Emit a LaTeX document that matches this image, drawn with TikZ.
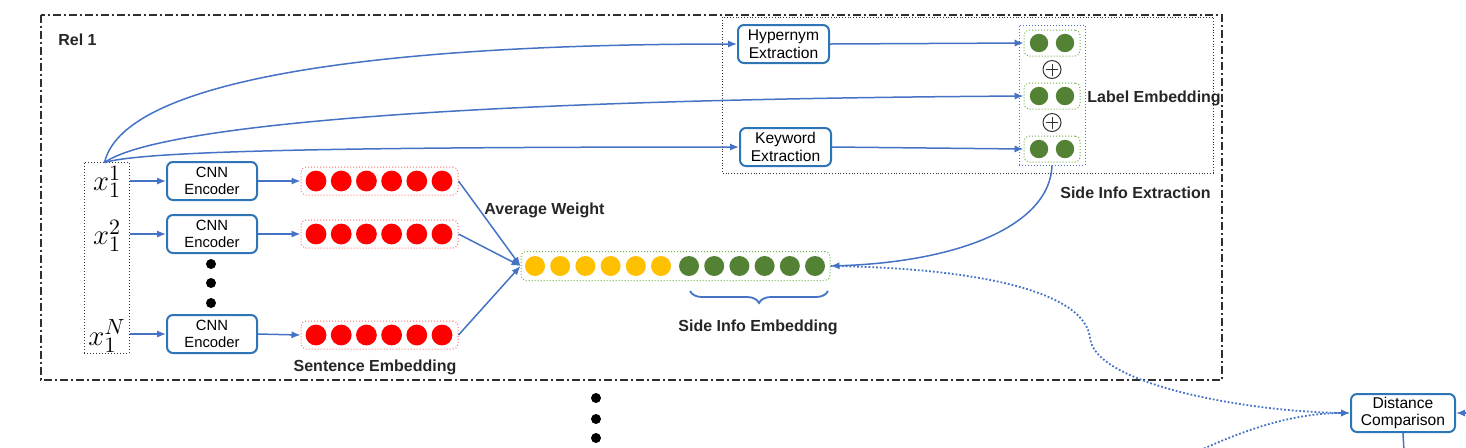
\documentclass[tikz,border=0pt]{standalone}
\usepackage{fontspec}
\setmainfont{Liberation Sans}
\usetikzlibrary{arrows.meta,decorations.pathreplacing,calc}
\definecolor{lnblue}{HTML}{4472C4}
\definecolor{bxblue}{HTML}{2E75B6}
\definecolor{myred}{HTML}{FF0000}
\definecolor{myyellow}{HTML}{FFC000}
\definecolor{mygreen}{HTML}{548235}
\definecolor{dotgreen}{HTML}{70AD47}
\definecolor{dotred}{HTML}{FF6F6F}
\definecolor{framegray}{HTML}{303030}
\begin{document}
\begin{tikzpicture}[x=0.5pt,y=-0.5pt,
 arr/.style={draw=lnblue,line width=0.75pt,-{Latex[length=4.5pt,width=3.6pt]}},
 procbox/.style={draw=bxblue,line width=1pt,rounded corners=3pt,minimum width=45pt,minimum height=19pt,align=center,inner sep=0pt,font=\fontsize{7.4}{8.2}\selectfont,text=black},
 lbl/.style={font=\bfseries\fontsize{8}{9}\selectfont,text=black!85,inner sep=0pt},
 redbar/.style={draw=dotred,densely dotted,line width=0.5pt,rounded corners=2.5pt,minimum width=78.5pt,minimum height=14pt,inner sep=0pt},
 greenbar/.style={draw=dotgreen,densely dotted,line width=0.5pt,rounded corners=2.5pt,inner sep=0pt},
 dotc/.style={circle,fill=black,inner sep=0pt,minimum size=5pt},
 xlab/.style={inner sep=0pt,font=\fontsize{15}{17}\selectfont},
 oplusnode/.style={circle,draw=black!80,line width=0.5pt,minimum size=9pt,inner sep=0pt,
   path picture={\draw[black!80,line width=0.5pt] ([xshift=-3pt]path picture bounding box.center) -- ([xshift=3pt]path picture bounding box.center) ([yshift=-3pt]path picture bounding box.center) -- ([yshift=3pt]path picture bounding box.center);}}
]
\useasboundingbox (0,0) rectangle (1466,447);
\clip (0,0) rectangle (1466,447);

% outer frame
\draw[framegray,line width=0.6pt,dash pattern=on 4pt off 1.5pt on 1pt off 1.5pt] (41,15) rectangle (1222,380);
\node[lbl,anchor=west] (rel) at (58,40) {Rel 1};

% side info extraction frame
\draw[black!80,line width=0.4pt,densely dotted] (722,17) rectangle (1213,173);
\node[lbl,anchor=east] (sie) at (1211,193) {Side Info Extraction};

% input box
\node[draw=black!80,densely dotted,line width=0.5pt,minimum width=22.5pt,minimum height=95.5pt,inner sep=0pt] (xbox) at (106.5,257.5) {};
\node[xlab] (x1) at (107,182) {$x_1^1$};
\node[xlab] (x2) at (107,236) {$x_1^2$};
\node[xlab] (xn) at (107,336) {$x_1^N$};

% CNN encoders
\node[procbox] (c1) at (212,181) {CNN\\Encoder};
\node[procbox] (c2) at (212,234) {CNN\\Encoder};
\node[procbox] (c3) at (212,334) {CNN\\Encoder};
\node[dotc] (d1) at (211,264) {};
\node[dotc] (d2) at (211,283) {};
\node[dotc] (d3) at (211,303) {};

% sentence embeddings
\node[redbar] (s1) at (379.5,181) {};
\node[redbar] (s2) at (379.5,234) {};
\node[redbar] (s3) at (379.5,335) {};
\foreach \yy in {181,234,335}{
  \foreach \i in {0,...,5}{
    \fill[myred] ({316+25.2*\i},\yy) circle (5.2pt);
  }
}
\node[lbl] (sent) at (375,367) {Sentence Embedding};

% combined embedding
\node[greenbar,minimum width=154.5pt,minimum height=14.5pt] (comb) at (675.5,266) {};
\foreach \i in {0,...,5}{
  \fill[myyellow] ({535+25.2*\i},266) circle (5pt);
  \fill[mygreen] ({689+25.2*\i},266) circle (5pt);
}
\node[lbl,anchor=west] (avg) at (484,210) {Average Weight};
\draw[lnblue,line width=0.9pt,decorate,decoration={brace,mirror,amplitude=6pt}] (690,291) -- (828,291);
\node[lbl] (sidemb) at (758,327) {Side Info Embedding};

% extraction boxes
\node[procbox,minimum width=45.5pt,font=\fontsize{7.8}{8.8}\selectfont] (hyp) at (783.5,44) {Hypernym\\Extraction};
\node[procbox,minimum width=45.5pt,font=\fontsize{7.8}{8.8}\selectfont] (key) at (785.5,147) {Keyword\\Extraction};

% label embedding column
\node[draw=lnblue,densely dotted,line width=0.5pt,minimum width=33pt,minimum height=70pt,inner sep=0pt] (lcol) at (1052,95) {};
\node[greenbar,minimum width=28pt,minimum height=13pt] (g1) at (1052,43) {};
\node[greenbar,minimum width=28pt,minimum height=13pt] (g2) at (1052,96) {};
\node[greenbar,minimum width=28pt,minimum height=13pt] (g3) at (1052,149) {};
\foreach \yy in {43,96,149}{
  \fill[mygreen] (1039,\yy) circle (4.6pt);
  \fill[mygreen] (1065,\yy) circle (4.6pt);
}
\node[oplusnode] (p1) at (1052,69.5) {};
\node[oplusnode] (p2) at (1052,122.5) {};
\node[lbl,anchor=west] (lemb) at (1087,98) {Label Embedding};

% distance comparison
\node[procbox,minimum width=52pt,font=\fontsize{7.8}{8.8}\selectfont] (dist) at (1403,413) {Distance\\Comparison};
\node[dotc] (b1) at (596,398) {};
\node[dotc] (b2) at (596,419) {};
\node[dotc] (b3) at (596,438) {};

% connectors
\coordinate (x1e) at (130,181);
\coordinate (x2e) at (130,234);
\coordinate (xne) at (130,334);
\draw[arr] (x1e) -- (c1.west);
\draw[arr] (x2e) -- (c2.west);
\draw[arr] (xne) -- (c3.west);
\draw[arr] (c1.east) -- (s1.west);
\draw[arr] (c2.east) -- (s2.west);
\draw[arr] (c3.east) -- (s3.west);
\draw[arr] (s1.east) -- (comb.west);
\draw[arr] (s2.east) -- (comb.west);
\draw[arr] (s3.east) -- (comb.west);

\coordinate (xs) at ($(xbox.north)+(-2,1)$);
\draw[arr] (xs) .. controls (125,75) and (400,44) .. (hyp.west);
\draw[arr] (xs) .. controls (150,130) and (400,100) .. (g2.west);
\draw[arr] (xs) .. controls (140,152) and (300,147) .. (key.west);
\draw[arr] (hyp.east) -- (g1.west);
\draw[arr] (key.east) -- (g3.west);
\draw[arr] (lcol.south) .. controls (1050,225) and (960,262) .. (comb.east);

\draw[lnblue,line width=0.9pt,densely dotted,-{Latex[length=4.5pt,width=3.6pt]}] (comb.east) .. controls (980,268) and (1085,292) .. (1090,338) .. controls (1095,385) and (1250,412) .. (dist.west);
\coordinate (lowin) at (1180,460);
\draw[lnblue,line width=0.9pt,densely dotted,-{Latex[length=4.5pt,width=3.6pt]}] (lowin) .. controls (1250,425) and (1300,413) .. (dist.west);
\coordinate (rightin) at (1490,413);
\draw[arr] (rightin) -- (dist.east);
\coordinate (downout) at (1405,470);
\draw[lnblue,line width=0.75pt] (dist.south) -- (downout);
\end{tikzpicture}
\end{document}
